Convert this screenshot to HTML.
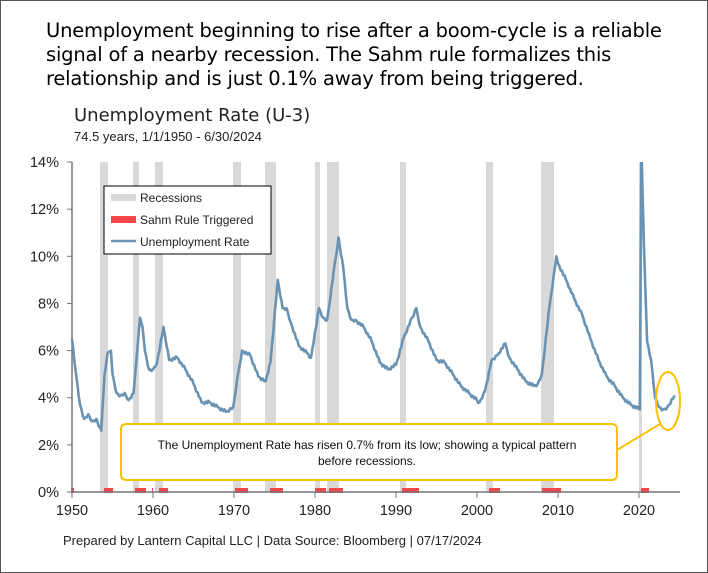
<!DOCTYPE html>
<html><head><meta charset="utf-8"><style>
body{margin:0;background:#fff;}
#w{position:relative;width:706px;height:571px;border:1px solid #555;background:#fff;font-family:"Liberation Sans",sans-serif;overflow:hidden}
.t{position:absolute;white-space:nowrap;color:#000}
</style></head><body><div id="w">
<div class="t" style="left:45px;top:18px;font-size:19.5px;line-height:24px;font-family:'DejaVu Sans',sans-serif;letter-spacing:-0.2px">Unemployment beginning to rise after a boom-cycle is a reliable<br>signal of a nearby recession. The Sahm rule formalizes this<br>relationship and is just 0.1% away from being triggered.</div>
<div class="t" style="left:73px;top:104px;font-size:18px;color:#222;font-family:'DejaVu Sans',sans-serif">Unemployment Rate (U-3)</div>
<div class="t" style="left:73px;top:128px;font-size:13px;color:#222">74.5 years, 1/1/1950 - 6/30/2024</div>
<div class="t" style="left:62px;top:532px;font-size:13px;color:#222">Prepared by Lantern Capital LLC | Data Source: Bloomberg | 07/17/2024</div>
<svg id="s" width="706" height="571" style="position:absolute;left:0;top:0" font-family="Liberation Sans, sans-serif"></svg>
</div>
<script>
const X=y=>72+(y-1950)*8.1-1, Y=r=>492-r*23.57-1;
let h='<defs><clipPath id="c"><rect x="60" y="161" width="640" height="340"/></clipPath></defs>';
[[100,108],[133,139],[155,163],[233,241],[265,276],[315,320],[327,339],[400,406],[486,493],[541,554],[639,642]].forEach(a=>h+=`<rect x="${a[0]-1}" y="161" width="${a[1]-a[0]}" height="330" fill="#d9d9d9"/>`);
[[71,74],[104,113],[135,146],[152,153],[159,168],[235,248],[270,283],[315,326],[329,343],[402,419],[489,500],[542,561],[641,649]].forEach(a=>h+=`<rect x="${a[0]-1}" y="487" width="${a[1]-a[0]}" height="5" fill="#f4474a"/>`);
for(let i=0;i<=7;i++){let yy=Y(i*2);h+=`<line x1="66" x2="71" y1="${yy}" y2="${yy}" stroke="#777"/><text x="58" y="${yy+5}" font-size="14.5" text-anchor="end" fill="#222">${i*2}%</text>`;}
for(let i=0;i<=7;i++){let xx=X(1950+i*10);h+=`<line x1="${xx}" x2="${xx}" y1="491" y2="497" stroke="#777"/><text x="${xx}" y="514" font-size="14.5" text-anchor="middle" fill="#222">${1950+i*10}</text>`;}
h+=`<line x1="71" x2="71" y1="161" y2="491" stroke="#777" stroke-width="1.5"/><line x1="71" x2="679" y1="491" y2="491" stroke="#777" stroke-width="1.5"/>`;
const d=[[1950,6.5],[1950.5,5.0],[1951,3.7],[1951.5,3.1],[1952,3.3],[1952.5,3.0],[1953,3.1],[1953.6,2.6],[1954,4.9],[1954.4,5.9],[1954.8,6.0],[1955,5.0],[1955.5,4.2],[1956,4.1],[1956.5,4.2],[1957,3.9],[1957.6,4.2],[1958,5.8],[1958.4,7.4],[1958.7,7.0],[1959,6.0],[1959.5,5.2],[1960,5.2],[1960.5,5.5],[1961.3,7.0],[1962,5.6],[1963,5.7],[1964,5.2],[1965,4.6],[1966,3.8],[1967,3.8],[1968,3.6],[1969,3.4],[1969.9,3.6],[1970.5,5.0],[1971,6.0],[1972,5.8],[1973,4.9],[1973.9,4.7],[1974.5,5.5],[1975.4,9.0],[1976,7.8],[1976.5,7.8],[1977,7.2],[1978,6.2],[1979,5.9],[1979.5,5.7],[1980.5,7.8],[1981,7.4],[1981.5,7.3],[1982.9,10.8],[1983.5,9.5],[1984,7.8],[1984.5,7.3],[1985,7.3],[1986,7.0],[1987,6.4],[1988,5.5],[1989,5.2],[1990,5.4],[1991,6.6],[1992.5,7.8],[1993,7.0],[1994,6.4],[1995,5.6],[1996,5.5],[1997,5.0],[1998,4.5],[1999,4.2],[2000.3,3.8],[2001,4.3],[2001.8,5.6],[2002.5,5.8],[2003.5,6.3],[2004,5.7],[2005,5.2],[2006,4.7],[2007,4.5],[2007.5,4.6],[2008,5.0],[2009,8.0],[2009.8,10.0],[2010,9.7],[2011,9.0],[2012,8.2],[2013,7.5],[2014,6.5],[2015,5.6],[2016,4.9],[2017,4.5],[2018,4.0],[2019,3.7],[2020.1,3.5],[2020.3,14.8],[2020.6,10.5],[2021,6.4],[2021.5,5.6],[2022,4.0],[2022.5,3.6],[2023,3.5],[2023.5,3.6],[2024.4,4.1]];
let p='';d.forEach((q,i)=>{let x=X(q[0]),y=Y(q[1]);if(i>0){let a=d[i-1];let n=Math.max(1,Math.round((q[0]-a[0])*6));for(let k=1;k<=n;k++){let t=k/n,xx=X(a[0]+(q[0]-a[0])*t),yy=Y(a[1]+(q[1]-a[1])*t)+(k<n?((k*7%5)-2)*0.8:0);p+=`L${xx.toFixed(1)},${yy.toFixed(1)}`;}}else p+=`M${x},${y}`;});
h+=`<path d="${p}" fill="none" stroke="#6a93b3" stroke-width="2.6" stroke-linejoin="round" clip-path="url(#c)"/>`;
h+=`<rect x="103" y="185" width="167" height="68" fill="#fff" stroke="#000"/>
<rect x="110" y="193" width="25" height="7" fill="#d9d9d9"/><text x="139" y="201" font-size="12" fill="#222">Recessions</text>
<rect x="110" y="215" width="25" height="7" fill="#f4474a"/><text x="139" y="223" font-size="12" fill="#222">Sahm Rule Triggered</text>
<line x1="110" x2="135" y1="240" y2="240" stroke="#6a93b3" stroke-width="2.5"/><text x="139" y="245" font-size="12" fill="#222">Unemployment Rate</text>
<line x1="616" y1="449" x2="659" y2="423" stroke="#ffc000" stroke-width="2"/>
<ellipse cx="667" cy="400" rx="12" ry="29" fill="none" stroke="#ffc000" stroke-width="2"/>
<rect x="120" y="423" width="496" height="56" rx="5" fill="#fff" stroke="#ffc000" stroke-width="2"/>
<text x="366" y="448" font-size="12" text-anchor="middle" fill="#111">The Unemployment Rate has risen 0.7% from its low; showing a typical pattern</text>
<text x="366" y="464" font-size="12" text-anchor="middle" fill="#111">before recessions.</text>`;
document.getElementById('s').innerHTML=h;
</script></body></html>
